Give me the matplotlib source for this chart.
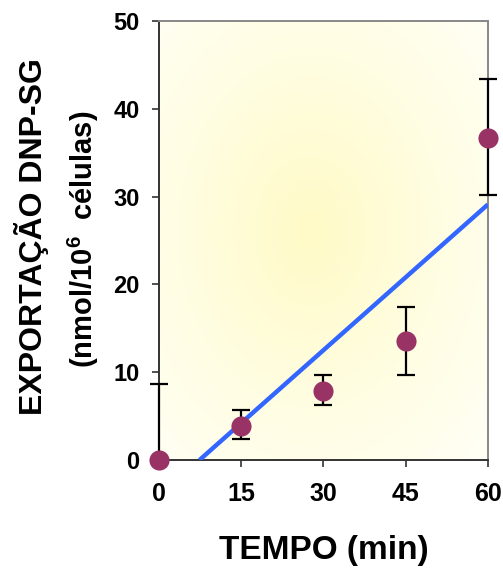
import numpy as np
import matplotlib
matplotlib.use("Agg")
import matplotlib.pyplot as plt
from matplotlib.colors import LinearSegmentedColormap

plt.rcParams['font.family'] = ['Liberation Sans', 'DejaVu Sans']
plt.rcParams['font.weight'] = 'bold'
plt.rcParams['mathtext.fontset'] = 'custom'
plt.rcParams['mathtext.rm'] = 'Liberation Sans:bold'
plt.rcParams['mathtext.bf'] = 'Liberation Sans:bold'

# dados
tempo = [0, 15, 30, 45, 60]
exportacao = [0.0, 3.9, 7.9, 13.6, 36.7]
erro_inf = [0.0, 1.5, 1.6, 3.9, 6.5]
erro_sup = [8.6, 1.8, 1.8, 3.8, 6.7]

# linha de tendência (extremos lidos)
tend_x = [7.4, 60]
tend_y = [0.0, 29.1]

fig = plt.figure(figsize=(5.03, 5.74), dpi=100)
ax = fig.add_axes([0.316, 0.1986, 0.654, 0.765])

# fundo com gradiente radial amarelo
nx, ny = 300, 300
gx, gy = np.meshgrid(np.linspace(0, 1, nx), np.linspace(0, 1, ny))
r = np.sqrt((gx - 0.46) ** 2 + (gy - 0.52) ** 2) / 0.7
r = np.clip(r, 0, 1)
cmap = LinearSegmentedColormap.from_list('fundo', ['#FFFAC6', '#FFFDDF', '#FFFFF3'])
ax.imshow(r, cmap=cmap, extent=[0, 1, 0, 1], transform=ax.transAxes,
          origin='lower', aspect='auto', zorder=0, interpolation='bilinear')

ax.plot(tend_x, tend_y, color='#3366FF', lw=3.2, zorder=3, solid_capstyle='butt')
ax.errorbar(tempo, exportacao, yerr=[erro_inf, erro_sup], fmt='none',
            ecolor='black', elinewidth=1.6, capsize=6.5, capthick=1.6,
            zorder=4, clip_on=False)
ax.plot(tempo, exportacao, 'o', color='#993366', markersize=14.5,
        markeredgewidth=0, zorder=5, clip_on=False)

ax.set_xlim(0, 60)
ax.set_ylim(0, 50)
ax.set_xticks([0, 15, 30, 45, 60])
ax.set_yticks([0, 10, 20, 30, 40, 50])
ax.tick_params(axis='y', direction='out', length=5, width=1.2, pad=9,
               labelsize=17, color='#333333')
ax.tick_params(axis='x', direction='out', length=5, width=1.2, pad=11,
               labelsize=18, color='#333333')
for lab in ax.get_xticklabels() + ax.get_yticklabels():
    lab.set_fontweight('bold')

for s in ['top', 'right']:
    ax.spines[s].set_color('#888888')
    ax.spines[s].set_linewidth(1.4)
for s in ['left', 'bottom']:
    ax.spines[s].set_color('#333333')
    ax.spines[s].set_linewidth(1.4)

ax.set_xlabel('TEMPO (min)', fontsize=24, fontweight='bold', labelpad=21)
fig.text(0.062, 0.588, 'EXPORTAÇÃO DNP-SG', rotation=90, ha='center',
         va='center', fontsize=23, fontweight='bold')
fig.text(0.165, 0.583, '(nmol/10$^{6}$  células)', rotation=90, ha='center',
         va='center', fontsize=21, fontweight='bold')

fig.savefig('out.png', dpi=100)
